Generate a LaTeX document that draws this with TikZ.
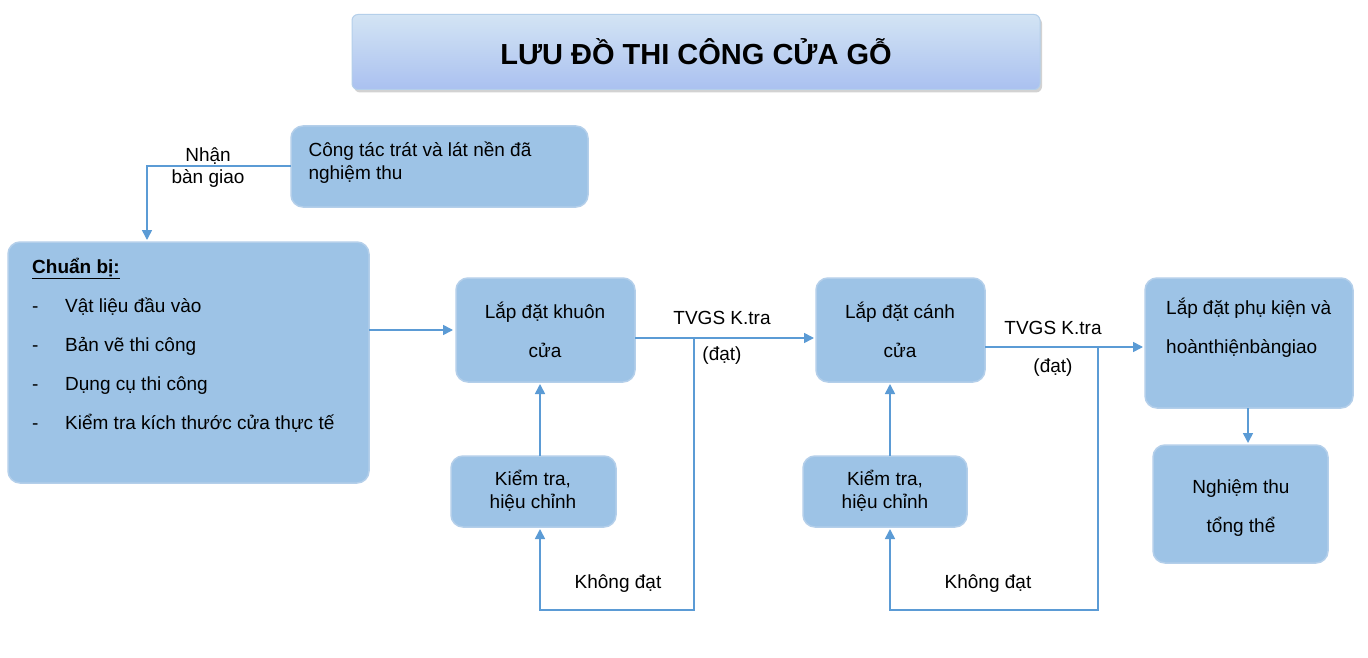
\documentclass[tikz,border=0pt]{standalone}
\usepackage{fontspec}
\setmainfont{Liberation Sans}
\usetikzlibrary{shadows,arrows.meta}
\definecolor{bx}{HTML}{9DC3E6}
\definecolor{bd}{HTML}{B4CFEA}
\definecolor{ln}{HTML}{5B9BD5}
\begin{document}
\begin{tikzpicture}[x=1pt,y=-1pt,
  box/.style={draw=bd,line width=1.5pt,fill=bx,rounded corners=12pt},
  con/.style={draw=ln,line width=1.6pt},
  arr/.style={con,-{Triangle[length=10pt,width=10pt]}},
  lbl/.style={font=\fontsize{19}{23}\selectfont,align=center}]
\useasboundingbox (0,0) rectangle (1368,658);
\fill[white] (0,0) rectangle (1368,658);
% title
\node[draw=bd,line width=1pt,rounded corners=6pt,top color=bx!45,bottom color=bx!85!blue!70!white,
  drop shadow={shadow xshift=2pt,shadow yshift=-3pt,opacity=0.35},
  minimum width=688pt,minimum height=75pt,font=\fontsize{29}{34}\selectfont\bfseries] (t) at (696,52) {LƯU ĐỒ THI CÔNG CỬA GỖ};
% boxes
\draw[box] (291,126) rectangle (588,207); \node[lbl,align=left,anchor=north west] (ct) at (305,138) {Công tác trát và lát nền đã\\nghiệm thu};
\coordinate (ctl) at (291,166);
\draw[box] (8,242) rectangle (369,483);
\node[anchor=north west,inner sep=0pt] (cb) at (32,258) {\fontsize{19}{39}\selectfont\begin{minipage}[t]{315pt}
\underline{\textbf{Chuẩn bị:}}\\
\makebox[33pt][l]{-}Vật liệu đầu vào\\
\makebox[33pt][l]{-}Bản vẽ thi công\\
\makebox[33pt][l]{-}Dụng cụ thi công\\
\makebox[33pt][l]{-}\parbox[t]{282pt}{\fontsize{19}{39}\selectfont Kiểm tra kích thước cửa thực tế}
\end{minipage}};
\draw[box] (456,278) rectangle (635,382); \node[lbl,font=\fontsize{19}{39}\selectfont] (k) at (545,330) {Lắp đặt khuôn\\cửa};
\draw[box] (451,456) rectangle (616,527); \node[lbl] (k1) at (533,491) {Kiểm tra,\\hiệu chỉnh};
\draw[box] (816,278) rectangle (985,382); \node[lbl,font=\fontsize{19}{39}\selectfont] (c) at (900,330) {Lắp đặt cánh\\cửa};
\draw[box] (803,456) rectangle (967,527); \node[lbl] (k2) at (885,491) {Kiểm tra,\\hiệu chỉnh};
\draw[box] (1145,278) rectangle (1353,408);
\node[anchor=north west,inner sep=0pt] (p) at (1166,298) {\parbox[t]{165pt}{\fontsize{19}{39}\selectfont\spaceskip=0pt plus 40pt Lắp đặt phụ kiện và hoàn thiện bàn giao}};
\draw[box] (1153,445) rectangle (1328,563); \node[lbl,font=\fontsize{19}{39}\selectfont] (n) at (1241,508) {Nghiệm thu\\tổng thể};
% connectors
\draw[arr] (ctl) -- (147,166) -- (147,240);
\node[lbl,font=\fontsize{19}{22}\selectfont] (nb) at (208,168) {Nhận\\bàn giao};
\draw[arr] (369,330) -- (453,330);
\draw[arr] (635,338) -- (814,338);
\node[lbl] (tv1) at (722,318) {TVGS K.tra}; \node[lbl] (d1) at (722,356) {(đạt)};
\draw[arr] (694,338) -- (694,610) -- (540,610) -- (540,529);
\node[lbl] (kd1) at (618,584) {Không đạt};
\draw[arr] (540,456) -- (540,384);
\draw[arr] (985,347) -- (1143,347);
\node[lbl] (tv2) at (1053,328) {TVGS K.tra}; \node[lbl] (d2) at (1053,368) {(đạt)};
\draw[arr] (1098,347) -- (1098,610) -- (890,610) -- (890,529);
\node[lbl] (kd2) at (988,584) {Không đạt};
\draw[arr] (890,456) -- (890,384);
\draw[arr] (1248,408) -- (1248,443);
\end{tikzpicture}
\end{document}
